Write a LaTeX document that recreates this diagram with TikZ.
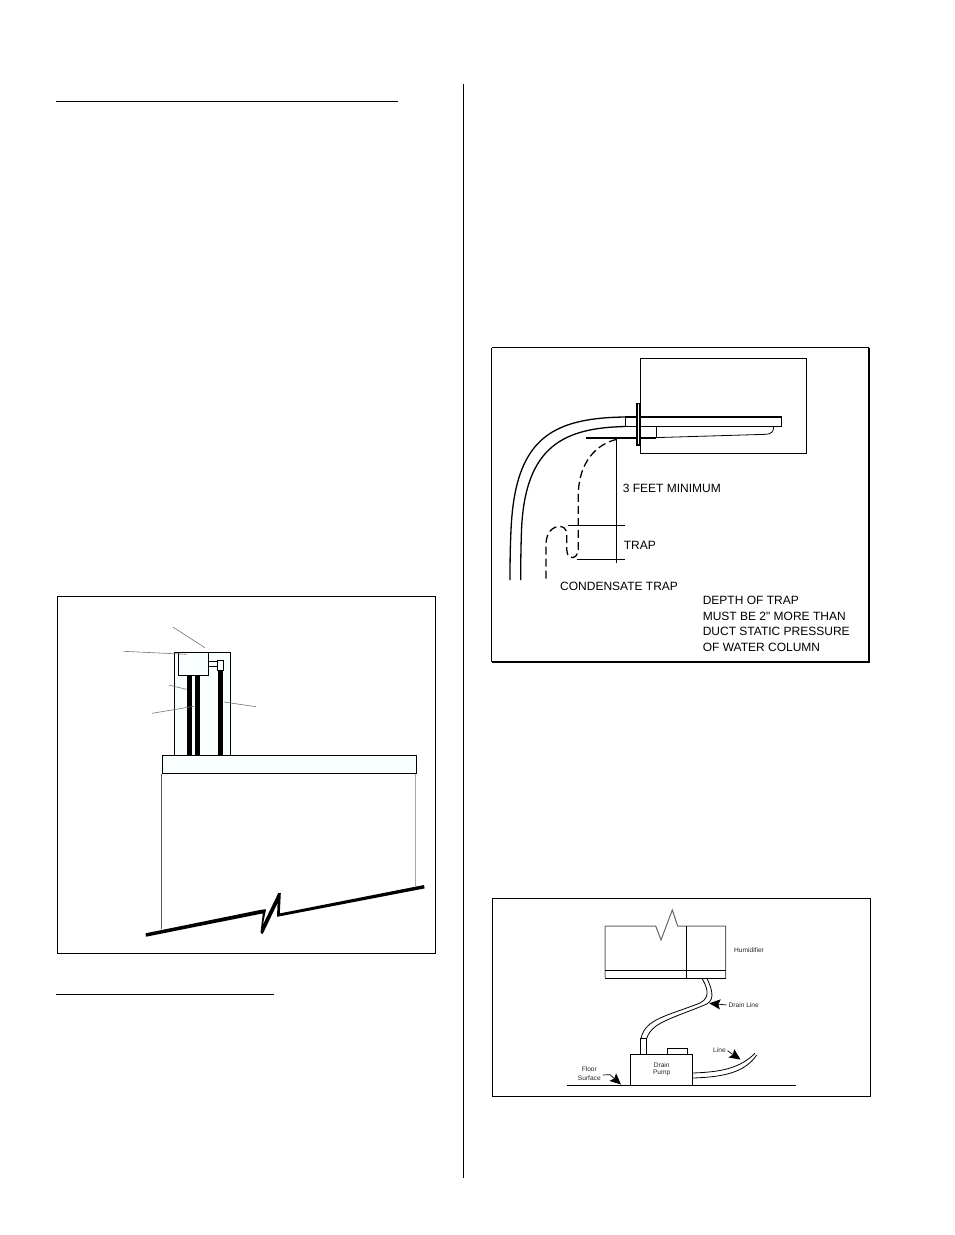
\documentclass[tikz,border=0pt]{standalone}
\usepackage{fontspec}
\newfontfamily\plainsans{Liberation Sans}
\setmainfont{Liberation Sans}
\usetikzlibrary{arrows.meta}
\definecolor{tint}{RGB}{250,255,255}
\tikzset{
  x=1pt,y=-1pt,
  rulel/.style={line width=1.2pt,black},
  frameb/.style={line width=1.3pt,black},
  part/.style={line width=1.2pt,black,fill=tint},
  bar/.style={line width=5pt,black,line cap=butt},
  leader/.style={line width=0.6pt,black!55},
  pipe/.style={line width=1.3pt,black},
  dashpipe/.style={line width=1.3pt,black,dash pattern=on 8pt off 4pt},
  thin part/.style={line width=0.8pt,black},
  big/.style={font=\plainsans\fontsize{12}{14}\selectfont,anchor=base west,inner sep=0pt},
  tiny/.style={font=\fontsize{6.6}{7}\selectfont,anchor=base west,inner sep=0pt,text=black!85},
  tinyc/.style={font=\fontsize{6.6}{7}\selectfont,anchor=base,inner sep=0pt,text=black!85},
  pointer/.style={line width=0.7pt,black,shorten <=2pt,-{Stealth[length=11pt,width=10pt,inset=2pt]}},
}
\begin{document}
\begin{tikzpicture}
\useasboundingbox (0,0) rectangle (954,1235);
\fill[white] (0,0) rectangle (954,1235);
% page rules
\draw[rulel] (56,101.5) -- (398,101.5);
\draw[rulel] (56,994.5) -- (274,994.5);
\draw[line width=1.2pt] (463.5,84) -- (463.5,1178);

% ---------- figure 1
\draw[frameb] (57.5,596.5) rectangle (435.5,953.5);
\draw[part] (174.5,652.5) rectangle (230.5,755.5);
\draw[part] (178.5,652.5) rectangle (208.5,675.5);
\draw[line width=1pt] (208.5,661.5) rectangle (217.5,666.5);
\draw[part] (217.5,660.5) rectangle (223.5,670.5);
\draw[bar] (189.5,675.5) -- (189.5,755.5);
\draw[bar] (197.5,675.5) -- (197.5,755.5);
\draw[bar] (220,670.5) -- (220,756.7);
\draw[part] (162.5,755.5) rectangle (416.5,773.5);
\draw[leader] (173.3,627.3) -- (205,647.7);
\draw[leader] (123.7,651.3) -- (186.7,654.3);
\draw[leader] (169.3,685.3) -- (186.7,689.3);
\draw[leader] (152,713.3) -- (194,706.3);
\draw[leader] (224,702) -- (256,706.7);
\draw[line width=0.8pt,black!65] (161.5,773.5) -- (161.5,929.3);
\draw[line width=0.9pt,black!35] (415.5,773.5) -- (415.5,886);
\fill[black] (145.5,933.3) -- (262,909.6) -- (266,909.3) -- (262.8,925) -- (278.3,893) -- (280.8,893) -- (279.8,913.4) -- (424,885) -- (424.6,888.4) -- (277,916.8) -- (277.6,903) -- (262.7,934) -- (260.5,933) -- (262.8,913.4) -- (146,936.7) -- cycle;

% ---------- figure 2
\draw[line width=1pt] (491.5,347.5) -- (491.5,661.5);
\draw[line width=1pt] (491.5,347.5) -- (869,347.5);
\draw[line width=2pt] (869,347.5) -- (869,661.5) -- (491.5,661.5);
\draw[line width=1pt] (640.5,358.5) rectangle (806.5,453.5);
\draw[line width=2pt] (625,417) -- (781.7,417);
\draw[line width=1.1pt] (625,426.5) -- (781.7,426.5) -- (781.7,417);
\draw[line width=0.7pt] (625.5,417) -- (625.5,426.5);
\draw[line width=0.8pt] (656,426.5) -- (656,437.6);
\draw[line width=0.8pt] (656,437.6) -- (766,434.3) .. controls (771,434) and (773.7,432) .. (773.7,426.5);
\draw[line width=1.6pt] (586.3,438) -- (656,438);
\draw[line width=1.2pt,fill=white] (637,403.3) rectangle (639.8,445);
\draw[pipe] (625,417) .. controls (550,418) and (515,440) .. (511,530) .. controls (510.3,545) and (510,560) .. (510,580);
\draw[pipe] (625,426.5) .. controls (565,428) and (525,445) .. (521.5,530) .. controls (521,545) and (520.7,560) .. (520.7,580);
\draw[dashpipe] (616.7,439.3) .. controls (590,446) and (578.3,470) .. (578.3,495) -- (578.3,548) .. controls (578.3,556) and (574,559) .. (570,557) .. controls (566,555) and (566.7,548) .. (566.7,535) .. controls (566.7,528) and (563,526) .. (558,526.5) .. controls (550,528) and (546,535) .. (546,545) -- (546,582);
\draw[line width=1.2pt] (616.5,438) -- (616.5,563.3);
\draw[line width=1.2pt] (568.3,525.5) -- (625,525.5);
\draw[line width=1.2pt] (576.7,559.5) -- (625,559.5);
\node[big] (feet) at (622.7,492.4) {3 FEET MINIMUM};
\node[big] (trap) at (623.6,549) {TRAP};
\node[big] (cond) at (560,590) {CONDENSATE TRAP};
\node[big] (dep1) at (702.6,604) {DEPTH OF TRAP};
\node[big] (dep2) at (702.6,620) {MUST BE 2" MORE THAN};
\node[big] (dep3) at (702.6,635.3) {DUCT STATIC PRESSURE};
\node[big] (dep4) at (702.6,651) {OF WATER COLUMN};

% ---------- figure 3
\draw[line width=1.2pt] (492.5,898.5) rectangle (870.5,1096.5);
\draw[line width=1pt,black!60] (605,978) -- (605,926) -- (655.7,926) -- (661,940) -- (672.3,910) -- (677.7,926) -- (725.5,926) -- (725.5,978);
\draw[line width=0.9pt] (605,970.5) -- (725.5,970.5);
\draw[line width=1pt] (605,978.5) -- (725.5,978.5);
\draw[line width=0.7pt] (686.5,926) -- (686.5,978);
\draw[thin part] (701.7,978) .. controls (706,985) and (712,997) .. (700,1003) .. controls (680,1011) and (660,1016) .. (650,1024) .. controls (645,1028) and (642,1033) .. (641,1038.5);
\draw[thin part] (706.7,978) .. controls (711,987) and (716,999) .. (706.7,1004) .. controls (686,1013) and (668,1018) .. (656,1026) .. controls (651,1030) and (648,1034) .. (646.7,1038.5);
\draw[thin part] (640.5,1054) -- (640.5,1038.5) -- (646.5,1038.5) -- (646.5,1054);
\draw[line width=1pt] (630.5,1054.5) rectangle (692.5,1085.5);
\draw[thin part] (667.5,1054) -- (667.5,1048.5) -- (687.5,1048.5) -- (687.5,1054);
\draw[line width=1pt] (567.3,1085.5) -- (795.7,1085.5);
\draw[thin part] (692.7,1073) .. controls (722,1072) and (740,1068) .. (755,1053.3);
\draw[thin part] (692.7,1078) .. controls (725,1077) and (745,1072) .. (756.7,1055);
\node[tiny] (hum) at (734,952.5) {Humidifier};
\node[tiny] (drl) at (728.5,1007.5) {Drain Line};
\node[tiny] (lin) at (713,1052) {Line};
\node[tinyc] (pu1) at (661.7,1067) {Drain};
\node[tinyc] (pu2) at (661.7,1074) {Pump};
\node[tinyc] (fl1) at (589.3,1071.5) {Floor};
\node[tinyc] (fl2) at (589.3,1080) {Surface};
\coordinate (drtip) at (709.3,1003.3);
\coordinate (lintip) at (740.5,1059.5);
\coordinate (fltip) at (621,1084.5);
\coordinate (flbend) at (610,1074.7);
\draw[pointer] (drl.west) -- (drtip);
\draw[pointer] (lin.east) -- (lintip);
\draw[pointer] (fl2.north east) -- (flbend) -- (fltip);
\end{tikzpicture}
\end{document}
